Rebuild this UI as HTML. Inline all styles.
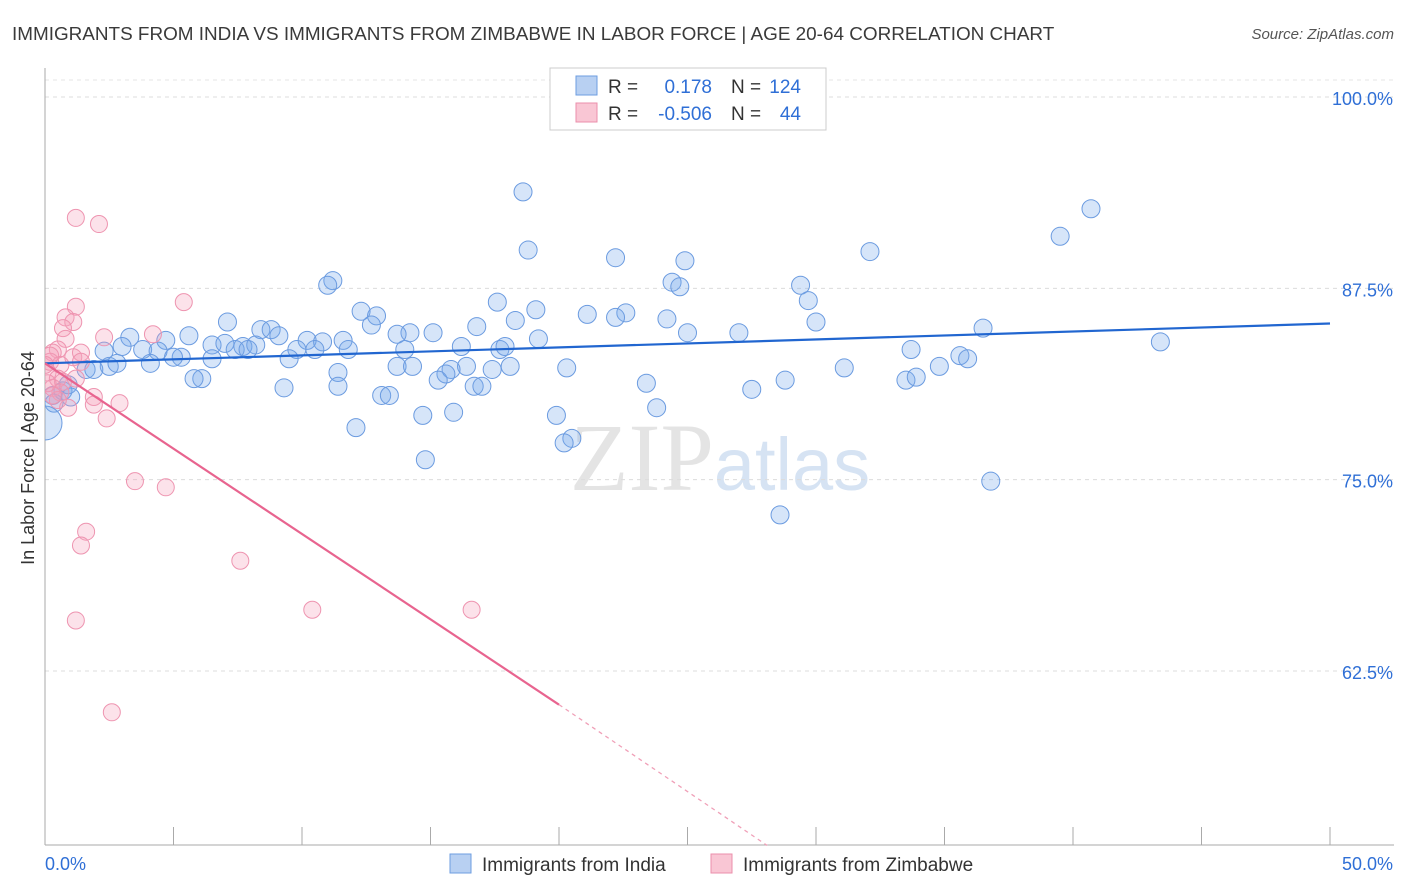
<!DOCTYPE html>
<html><head><meta charset="utf-8"><style>
body{margin:0;background:#fff;font-family:"Liberation Sans",sans-serif}
svg{display:block}
</style></head><body>
<svg id="chart" width="1406" height="892">
<defs><clipPath id="plotclip"><rect x="45" y="60" width="1360" height="785"/></clipPath></defs>
<text x="12" y="40" font-size="18.9" fill="#3a3a3a">IMMIGRANTS FROM INDIA VS IMMIGRANTS FROM ZIMBABWE IN LABOR FORCE | AGE 20-64 CORRELATION CHART</text>
<text x="1394" y="39" font-size="15" font-style="italic" fill="#555" text-anchor="end">Source: ZipAtlas.com</text>
<text x="720" y="490" font-size="96" fill="#e4e4e4" text-anchor="middle" font-family="Liberation Serif,serif">ZIP<tspan fill="#d6e3f3" font-family="Liberation Sans,sans-serif" font-size="74">atlas</tspan></text>
<text transform="translate(34,458) rotate(-90)" font-size="18" fill="#333" text-anchor="middle">In Labor Force | Age 20-64</text>
<g id="grid"></g><g id="pts" clip-path="url(#plotclip)"></g><g id="lines"></g>
<g>
<rect x="550" y="68" width="276" height="62" fill="#fff" stroke="#ccc"/>
<rect x="576" y="76" width="21" height="19" fill="#b8d0f2" stroke="#6e9ee0"/>
<rect x="576" y="103" width="21" height="19" fill="#f9c6d4" stroke="#eb8fab"/>
<text x="608" y="93" font-size="19" fill="#333">R =</text>
<text x="712" y="93" font-size="19" fill="#2f6fd6" text-anchor="end">0.178</text>
<text x="731" y="93" font-size="19" fill="#333">N =</text>
<text x="801" y="93" font-size="19" fill="#2f6fd6" text-anchor="end">124</text>
<text x="608" y="120" font-size="19" fill="#333">R =</text>
<text x="712" y="120" font-size="19" fill="#2f6fd6" text-anchor="end">-0.506</text>
<text x="731" y="120" font-size="19" fill="#333">N =</text>
<text x="801" y="120" font-size="19" fill="#2f6fd6" text-anchor="end">44</text>
</g>
<g>
<rect x="450" y="854" width="21" height="19" fill="#b8d0f2" stroke="#6e9ee0"/>
<text x="482" y="871" font-size="19" fill="#333">Immigrants from India</text>
<rect x="711" y="854" width="21" height="19" fill="#f9c6d4" stroke="#eb8fab"/>
<text x="743" y="871" font-size="19" fill="#333">Immigrants from Zimbabwe</text>
</g>
<text x="45" y="870" font-size="18" fill="#2f6fd6">0.0%</text>
<text x="1393" y="870" font-size="18" fill="#2f6fd6" text-anchor="end">50.0%</text>
</svg>
<script>
const yTicks=[100,87.5,75,62.5];
const yTickLabels=["100.0%","87.5%","75.0%","62.5%"];
const xTicks=[0,5,10,15,20,25,30,35,40,45,50];
const india=[[18.6,93.8],[40.7,92.7],[18.8,90.0],[22.2,89.5],[32.1,89.9],[39.5,90.9],[24.9,89.3],[11.2,88.0],[11.0,87.7],[24.4,87.9],[24.7,87.6],[29.4,87.7],[29.7,86.7],[17.6,86.6],[12.3,86.0],[19.1,86.1],[7.1,85.3],[12.9,85.7],[12.7,85.1],[18.3,85.4],[21.1,85.8],[22.6,85.9],[22.2,85.6],[24.2,85.5],[16.8,85.0],[30.0,85.3],[36.5,84.9],[15.1,84.6],[14.2,84.6],[13.7,84.5],[25.0,84.6],[27.0,84.6],[19.2,84.2],[8.4,84.8],[8.8,84.8],[9.1,84.4],[5.6,84.4],[3.3,84.3],[4.7,84.1],[10.2,84.1],[10.8,84.0],[11.6,84.1],[6.5,83.8],[7.0,83.9],[7.7,83.7],[8.2,83.8],[9.8,83.5],[10.5,83.5],[11.8,83.5],[3.0,83.7],[2.3,83.4],[3.8,83.5],[4.4,83.4],[5.3,83.0],[5.0,83.0],[7.4,83.5],[7.9,83.5],[16.2,83.7],[17.7,83.5],[17.9,83.7],[14.0,83.5],[9.5,82.9],[6.5,82.9],[4.1,82.6],[2.5,82.4],[1.6,82.2],[1.9,82.2],[43.4,84.0],[33.7,83.5],[35.6,83.1],[35.9,82.9],[13.7,82.4],[14.3,82.4],[16.4,82.4],[15.8,82.2],[15.6,81.9],[18.1,82.4],[20.3,82.3],[17.4,82.2],[31.1,82.3],[34.8,82.4],[11.4,82.0],[6.1,81.6],[5.8,81.6],[15.3,81.5],[16.7,81.1],[17.0,81.1],[23.4,81.3],[28.8,81.5],[33.5,81.5],[33.9,81.7],[11.4,81.1],[9.3,81.0],[27.5,80.9],[13.1,80.5],[13.4,80.5],[23.8,79.7],[14.7,79.2],[15.9,79.4],[19.9,79.2],[12.1,78.4],[20.5,77.7],[20.2,77.4],[14.8,76.3],[36.8,74.9],[28.6,72.7],[0.3,80.5],[0.7,80.8],[0.9,81.2],[1.0,80.4],[0.35,80.0],[2.8,82.6]];
const indiaBig=[[0,78.7]];
const zimbabwe=[[1.2,92.1],[2.1,91.7],[5.4,86.6],[1.2,86.3],[0.8,85.6],[1.1,85.3],[0.7,84.9],[0.8,84.2],[2.3,84.3],[4.2,84.5],[0.5,83.5],[0.3,83.3],[0.2,82.7],[0.6,82.5],[1.1,83.0],[1.4,83.3],[1.4,82.7],[0.1,82.0],[0.5,81.6],[0.7,81.4],[1.2,81.6],[0.3,81.0],[0.6,80.7],[0.9,79.7],[1.9,80.4],[1.9,79.9],[2.9,80.0],[2.4,79.0],[3.5,74.9],[4.7,74.5],[1.6,71.6],[1.4,70.7],[7.6,69.7],[10.4,66.5],[16.6,66.5],[1.2,65.8],[2.6,59.8],[0.2,83.1],[0.0,82.5],[0.1,81.3],[0.5,80.2],[0.3,80.5]];
const indiaTrend=[[0,82.6],[50,85.2]];
const zimTrendSolid=[[0,82.6],[20,60.3]];
const zimTrendDash=[[20,60.3],[28.1,51.1]];
const X=v=>45+v*25.7, Y=v=>97+(100-v)*15.306;
const NS="http://www.w3.org/2000/svg";
function mk(t,a,p){const e=document.createElementNS(NS,t);for(const k in a)e.setAttribute(k,a[k]);p.appendChild(e);return e;}
const grid=document.getElementById('grid');
yTicks.forEach((t,i)=>{
 const l=mk('line',{x1:45,x2:1394,y1:Y(t),y2:Y(t),stroke:'#dcdcdc','stroke-dasharray':'4,4'},grid);
 
 
 const tx=mk('text',{x:1393,y:Y(t)+8,'font-size':18,fill:'#2f6fd6','text-anchor':'end'},grid);
 tx.textContent=yTickLabels[i];
 
 
});
const topLine=mk('line',{x1:45,x2:1394,y1:80,y2:80,stroke:'#e4e4e4','stroke-dasharray':'4,4'},grid);


const ya=mk('line',{x1:45,x2:45,y1:68,y2:845,stroke:'#aaa'},grid);


const xa=mk('line',{x1:45,x2:1394,y1:845,y2:845,stroke:'#aaa'},grid);


xTicks.forEach(t=>{
 const l=mk('line',{x1:X(t),x2:X(t),y1:827,y2:845,stroke:'#aaa'},grid);
 
 
});
const pts=document.getElementById('pts');
india.forEach(d=>{
 const c=mk('circle',{cx:X(d[0]),cy:Y(d[1]),r:9,fill:'rgba(120,168,235,0.3)',stroke:'#6b9be0','stroke-width':1},pts);
 
 
});
indiaBig.forEach(d=>{
 const c=mk('circle',{cx:X(d[0]),cy:Y(d[1]),r:17,fill:'rgba(120,168,235,0.3)',stroke:'#6b9be0','stroke-width':1},pts);
 
 
});
zimbabwe.forEach(d=>{
 const c=mk('circle',{cx:X(d[0]),cy:Y(d[1]),r:8.5,fill:'rgba(244,160,185,0.3)',stroke:'#ee94b0','stroke-width':1},pts);
 
 
});
const lines=document.getElementById('lines');
const l1=mk('line',{x1:X(indiaTrend[0][0]),y1:Y(indiaTrend[0][1]),x2:X(indiaTrend[1][0]),y2:Y(indiaTrend[1][1]),stroke:'#2166d0','stroke-width':2.2},lines);


const l2=mk('line',{x1:X(zimTrendSolid[0][0]),y1:Y(zimTrendSolid[0][1]),x2:X(zimTrendSolid[1][0]),y2:Y(zimTrendSolid[1][1]),stroke:'#e8648f','stroke-width':2.2},lines);


const l3=mk('line',{x1:X(zimTrendDash[0][0]),y1:Y(zimTrendDash[0][1]),x2:X(zimTrendDash[1][0]),y2:Y(zimTrendDash[1][1]),stroke:'#f0a0b8','stroke-width':1.3,'stroke-dasharray':'4,4'},lines);


</script>
</body></html>
